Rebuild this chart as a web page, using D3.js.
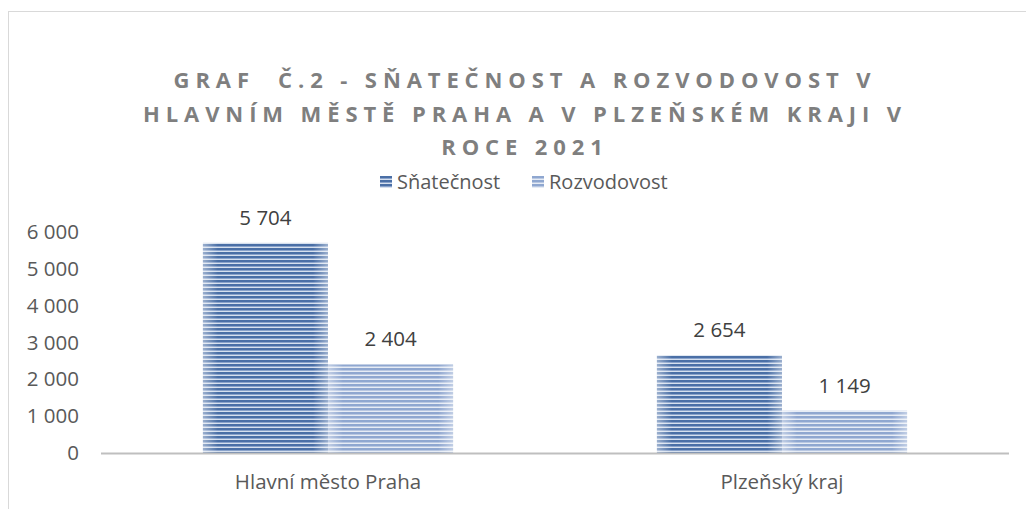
<!DOCTYPE html>
<html>
<head>
<meta charset="utf-8">
<script src="https://cdn.jsdelivr.net/npm/d3@7"></script>
<style>
  body { margin: 0; background: #fff; }
  svg { display: block; }
</style>
</head>
<body>
<svg id="chart"></svg>
<script>
const categories = ["Hlavní město Praha", "Plzeňský kraj"];
const seriesNames = ["Sňatečnost", "Rozvodovost"];
const snatecnost = [5704, 2654];
const rozvodovost = [2404, 1149];
const yTicks = [0, 1000, 2000, 3000, 4000, 5000, 6000];
const titleLines = [
  "GRAF  Č.2 - SŇATEČNOST A ROZVODOVOST V",
  "HLAVNÍM MĚSTĚ PRAHA A V PLZEŇSKÉM KRAJI V",
  "ROCE 2021"
];

const width = 1026, height = 509;
const font = "'Open Sans', 'Noto Sans', sans-serif";
const textColor = "#595959";

const svg = d3.select("#chart").attr("width", width).attr("height", height);

// stripe patterns
const defs = svg.append("defs");
function stripes(id, dark, mid, light) {
  const p = defs.append("pattern")
    .attr("id", id)
    .attr("patternUnits", "userSpaceOnUse")
    .attr("width", 4).attr("height", 4);
  p.append("rect").attr("width", 4).attr("height", 4).attr("fill", light);
  p.append("rect").attr("y", 0).attr("width", 4).attr("height", 2).attr("fill", dark);
  p.append("rect").attr("y", 2).attr("width", 4).attr("height", 1).attr("fill", mid);
}
stripes("pat0", "#4a6fa6", "#8aa3cb", "#d6e0ee");
stripes("pat1", "#8fa7d0", "#b9c8e2", "#e6ecf5");

const edge = defs.append("linearGradient").attr("id", "edge");
[[0, 0.45], [0.12, 0], [0.88, 0], [1, 0.45]].forEach(s => {
  edge.append("stop").attr("offset", s[0]).attr("stop-color", "#fff").attr("stop-opacity", s[1]);
});

// chart frame
svg.append("rect")
  .attr("x", 8.5).attr("y", 11.5)
  .attr("width", 1030).attr("height", 520)
  .attr("fill", "none").attr("stroke", "#d9d9d9");

// title
svg.append("g").selectAll("text")
  .data(titleLines)
  .enter()
  .append("text")
  .attr("x", 525)
  .attr("y", (d, i) => 88 + i * 33.5)
  .attr("text-anchor", "middle")
  .style("font-family", font)
  .style("font-weight", "bold")
  .style("font-size", "22px")
  .style("letter-spacing", "5.9px")
  .style("white-space", "pre")
  .style("fill", "#7f7f7f")
  .text(d => d);

// scales
const x0 = d3.scaleBand().domain(categories).range([101, 1009]).paddingInner(0.449).paddingOuter(0.2245);
const x1 = d3.scaleBand().domain(seriesNames).range([0, x0.bandwidth()]);
const y = d3.scaleLinear().domain([0, 6000]).range([453, 232]);
const fmt = v => d3.format(",")(v).replace(/,/g, " ");

// y axis labels
const yAxis = svg.append("g")
  .attr("transform", "translate(79,0)")
  .call(d3.axisLeft(y).tickValues(yTicks).tickFormat(fmt).tickSize(0).tickPadding(0));
yAxis.select(".domain").remove();
yAxis.selectAll("text")
  .style("font-family", font)
  .style("font-size", "20.5px")
  .style("fill", textColor);

// bars
const data = categories.map((c, i) => ({cat: c, vals: [snatecnost[i], rozvodovost[i]]}));
const groups = svg.append("g").selectAll("g")
  .data(data)
  .enter()
  .append("g")
  .attr("transform", d => "translate(" + x0(d.cat) + ",0)");

const bars = groups.selectAll("g.bar")
  .data(d => d.vals.map((v, j) => ({name: seriesNames[j], v: v, j: j})))
  .enter()
  .append("g").attr("class", "bar");

bars.append("rect")
  .attr("x", d => x1(d.name))
  .attr("y", d => y(d.v))
  .attr("width", x1.bandwidth())
  .attr("height", d => y(0) - y(d.v))
  .attr("fill", d => "url(#pat" + d.j + ")");
bars.append("rect")
  .attr("x", d => x1(d.name))
  .attr("y", d => y(d.v))
  .attr("width", x1.bandwidth())
  .attr("height", d => y(0) - y(d.v))
  .attr("fill", "url(#edge)");

bars.append("text")
  .attr("x", d => x1(d.name) + x1.bandwidth() / 2)
  .attr("y", d => y(d.v) - 18)
  .attr("text-anchor", "middle")
  .style("font-family", font)
  .style("font-size", "20.5px")
  .style("fill", "#404040")
  .text(d => fmt(d.v));

// baseline
svg.append("line")
  .attr("x1", 101).attr("x2", 1009)
  .attr("y1", y(0) + 0.5).attr("y2", y(0) + 0.5)
  .attr("stroke", "#bfbfbf").attr("stroke-width", 2);

// category labels
const xAxis = svg.append("g")
  .attr("transform", "translate(0,474)")
  .call(d3.axisBottom(x0).tickSize(0).tickPadding(0));
xAxis.select(".domain").remove();
xAxis.selectAll("text")
  .style("font-family", font)
  .style("font-size", "20.5px")
  .style("fill", textColor);

// legend
const legend = svg.append("g").selectAll("g")
  .data(seriesNames)
  .enter()
  .append("g")
  .attr("transform", (d, i) => "translate(" + (380 + i * 152) + ",176)");
legend.append("rect")
  .attr("width", 12).attr("height", 12)
  .attr("fill", (d, i) => "url(#pat" + i + ")");
legend.append("text")
  .attr("x", 17).attr("y", 13)
  .style("font-family", font)
  .style("font-size", "20px")
  .style("fill", textColor)
  .text(d => d);
</script>
</body>
</html>
